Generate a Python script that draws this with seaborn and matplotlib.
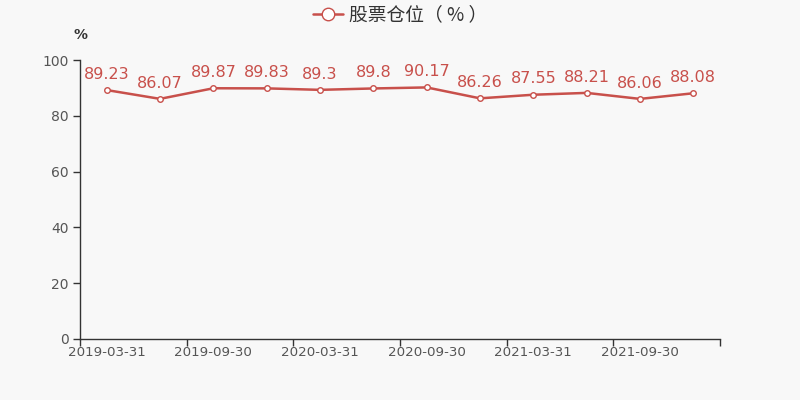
import numpy as np
import pandas as pd
import seaborn as sns
import matplotlib.pyplot as plt
from matplotlib.lines import Line2D

dates = ['2019-03-31', '2019-06-30', '2019-09-30', '2019-12-31',
         '2020-03-31', '2020-06-30', '2020-09-30', '2020-12-31',
         '2021-03-31', '2021-06-30', '2021-09-30', '2021-12-31']
values = [89.23, 86.07, 89.87, 89.83, 89.3, 89.8, 90.17, 86.26, 87.55, 88.21, 86.06, 88.08]
labels = ['89.23', '86.07', '89.87', '89.83', '89.3', '89.8', '90.17', '86.26', '87.55', '88.21', '86.06', '88.08']
yticks = [0, 20, 40, 60, 80, 100]

sns.set_style('white')
plt.rcParams['font.family'] = ['Noto Sans CJK SC', 'DejaVu Sans']

df = pd.DataFrame({'date': dates, 'value': values})
df['pos'] = np.arange(len(df))

red = '#c8504b'
dark = '#333333'
bg = '#f8f8f8'

fig = plt.figure(figsize=(8, 4), dpi=100, facecolor=bg)
ax = fig.add_axes([0.1, 0.1525, 0.8, 0.6975])
ax.set_facecolor(bg)

sns.lineplot(data=df, x='pos', y='value', ax=ax, color=red, linewidth=1.8,
             marker='o', markersize=4, markerfacecolor='white',
             markeredgecolor=red, markeredgewidth=1.0, legend=False)

for x, y, t in zip(df['pos'], df['value'], labels):
    ax.annotate(t, (x, y), xytext=(0, 6), textcoords='offset points',
                ha='center', va='bottom', color=red, fontsize=11.5,
                family='DejaVu Sans')

ax.set_xlim(-0.5, len(dates) - 0.5)
ax.set_ylim(0, 100)
ax.set_yticks(yticks)
ax.set_yticklabels([str(v) for v in yticks], color='#555555', fontsize=10,
                   family='DejaVu Sans')
ax.set_xticks(df['pos'][::2])
ax.set_xticklabels(df['date'][::2], color='#555555', fontsize=9.6,
                   family='DejaVu Sans')
ax.set_xticks(np.arange(-0.5, len(dates), 2), minor=True)
ax.tick_params(axis='x', which='major', bottom=True, length=0, pad=5)
ax.tick_params(axis='x', which='minor', bottom=True, length=5, color=dark, width=1)
ax.tick_params(axis='y', left=True, length=5, color=dark, width=1, pad=3)
ax.set_xlabel('')
ax.set_ylabel('')

for s in ['top', 'right']:
    ax.spines[s].set_visible(False)
for s in ['left', 'bottom']:
    ax.spines[s].set_color(dark)
    ax.spines[s].set_linewidth(1)

ax.text(0.0, 1.065, '%', transform=ax.transAxes, ha='center', va='bottom',
        fontsize=10, color=dark, fontweight='bold', family='DejaVu Sans')

handle = Line2D([], [], color=red, linewidth=1.8, marker='o', markersize=9,
                markerfacecolor='white', markeredgecolor=red, markeredgewidth=1.0)
leg = fig.legend([handle], ['股票仓位（ % ）'], loc='center', bbox_to_anchor=(0.5, 0.962),
                 frameon=False, fontsize=13.5, handlelength=1.6, handletextpad=0.3)
for t in leg.get_texts():
    t.set_color(dark)

fig.savefig('out.png', dpi=100, facecolor=bg)
